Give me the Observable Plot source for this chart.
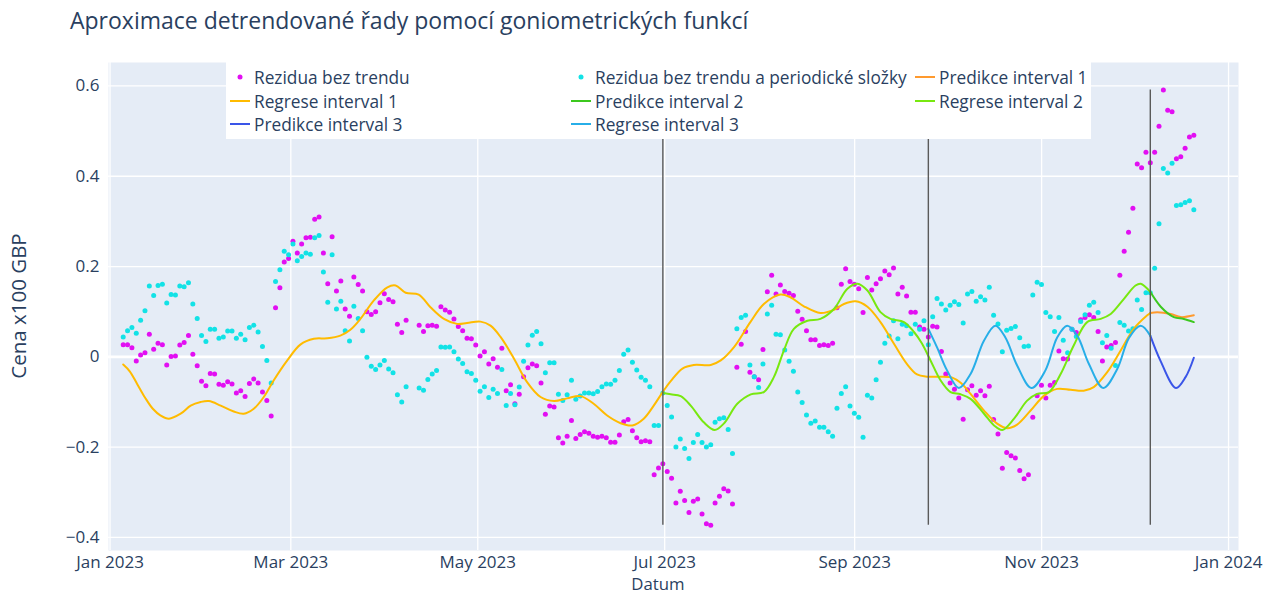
<!DOCTYPE html>
<html>
<head>
<meta charset="utf-8">
<script src="https://cdn.jsdelivr.net/npm/d3@7"></script>
<script src="https://cdn.jsdelivr.net/npm/@observablehq/plot@0.6"></script>
<style>
  body { margin: 0; background: #ffffff; font-family: "Open Sans", sans-serif; }
  #wrap { position: relative; width: 1273px; height: 595px; overflow: hidden; }
  #title { position: absolute; left: 70px; top: 4px; font-size: 23px; line-height: 32px; color: #2a3f5f; white-space: nowrap; }
  #legend { position: absolute; left: 226px; top: 62px; width: 865px; height: 77px; background: #ffffff; }
  .item { position: absolute; height: 22px; display: flex; align-items: center; font-size: 17.3px; color: #2a3f5f; white-space: nowrap; }
  .item svg { margin-right: 4px; }
  #xlabel { position: absolute; left: 658px; top: 573.5px; transform: translateX(-50%); font-size: 16.8px; line-height: 20px; color: #2a3f5f; white-space: nowrap; }
  #ylabel { position: absolute; left: 18px; top: 306px; transform: translate(-50%, -50%) rotate(-90deg); font-size: 20.5px; line-height: 24px; color: #2a3f5f; white-space: nowrap; }
</style>
</head>
<body>
<div id="wrap">
  <div id="chart"></div>
  <div id="title">Aproximace detrendované řady pomocí goniometrických funkcí</div>
  <div id="legend"></div>
  <div id="xlabel">Datum</div>
  <div id="ylabel">Cena x100 GBP</div>
</div>
<script>
const firstDay = Date.UTC(2023, 0, 1) + 4.3 * 864e5; // first observation
const stepDays = 1.4202;                               // spacing of observations

const rezidua = [0.027,0.027,0.020,-0.009,0.004,0.009,0.050,0.017,0.030,0.027,-0.018,0.001,0.002,0.026,0.032,0.047,0.006,-0.020,-0.054,-0.064,
-0.037,-0.038,-0.061,-0.063,-0.055,-0.060,-0.080,-0.075,-0.088,-0.059,-0.049,-0.058,-0.078,-0.097,-0.131,0.109,0.153,0.210,0.218,0.256,
0.230,0.250,0.264,0.265,0.305,0.310,0.230,0.162,0.266,0.146,0.168,0.106,0.090,0.177,0.160,0.146,0.100,0.094,0.100,0.120,
0.140,0.127,0.122,0.072,0.054,0.081,null,null,0.070,0.056,0.069,0.070,0.068,0.111,0.104,0.099,0.084,0.067,0.058,0.041,
0.040,0.026,0.002,0.011,-0.016,-0.004,-0.023,0.019,-0.075,-0.062,-0.104,-0.083,-0.044,-0.024,-0.016,-0.020,-0.058,-0.127,-0.109,-0.111,
-0.179,-0.191,-0.176,-0.141,-0.181,-0.172,-0.166,-0.169,-0.176,-0.178,-0.176,-0.179,-0.189,-0.189,-0.173,-0.144,-0.139,-0.164,-0.179,-0.188,
-0.186,-0.188,-0.261,-0.246,-0.237,-0.254,-0.269,-0.324,-0.298,-0.318,-0.345,-0.320,-0.315,-0.348,-0.370,-0.373,-0.324,-0.309,-0.292,-0.297,
-0.326,-0.023,0.028,0.056,-0.034,-0.044,-0.051,0.016,0.144,0.181,0.139,0.159,0.145,0.141,0.136,0.101,0.083,0.058,0.038,0.038,
0.025,0.027,0.025,0.030,0.109,0.161,0.195,0.167,0.161,0.151,0.098,0.176,0.148,0.162,0.173,0.190,0.182,0.197,0.139,0.154,
0.135,0.099,0.099,0.066,0.061,0.044,0.068,0.066,0.012,-0.038,-0.058,-0.072,-0.091,-0.138,-0.073,-0.064,-0.085,-0.075,-0.086,-0.065,
-0.139,-0.171,-0.247,-0.212,-0.219,-0.224,-0.252,-0.270,-0.261,-0.134,-0.086,-0.063,-0.091,-0.063,-0.057,0.013,-0.004,-0.005,0.061,0.054,
0.082,0.087,0.093,0.087,0.056,-0.009,0.022,0.025,0.032,0.181,0.234,0.276,0.329,0.427,0.419,0.453,0.430,0.453,0.511,0.591,
0.546,0.543,0.439,0.443,0.462,0.487,0.491];

const rezidubezPer = [0.044,0.058,0.065,0.052,0.081,0.102,0.157,0.136,0.158,0.161,0.119,0.138,0.137,0.157,0.155,0.164,0.117,0.085,0.047,0.034,
0.061,0.061,0.041,0.044,0.057,0.057,0.041,0.050,0.038,0.065,0.070,0.055,0.023,-0.008,-0.058,0.167,0.193,0.234,0.226,0.250,
0.213,0.222,0.230,0.227,0.264,0.269,0.188,0.121,0.226,0.106,0.123,0.058,0.035,0.112,0.085,0.058,-0.001,-0.021,-0.028,-0.018,
-0.008,-0.027,-0.035,-0.084,-0.100,-0.066,null,null,-0.069,-0.074,-0.050,-0.038,-0.030,0.022,0.021,0.022,0.011,-0.005,-0.015,-0.033,
-0.037,-0.052,-0.076,-0.066,-0.090,-0.072,-0.081,-0.028,-0.108,-0.081,-0.106,-0.067,-0.010,0.026,0.048,0.056,0.029,-0.035,-0.013,-0.013,
-0.083,-0.097,-0.084,-0.052,-0.094,-0.087,-0.080,-0.080,-0.082,-0.077,-0.066,-0.060,-0.061,-0.052,-0.030,0.006,0.015,-0.012,-0.029,-0.045,
-0.052,-0.066,-0.152,-0.152,-0.080,-0.108,-0.133,-0.200,-0.182,-0.203,-0.225,-0.190,-0.172,-0.190,-0.200,-0.195,-0.145,-0.137,-0.135,-0.161,
-0.214,0.062,0.087,0.092,-0.018,-0.044,-0.068,-0.016,0.095,0.114,0.050,0.049,0.015,-0.010,-0.032,-0.078,-0.101,-0.129,-0.147,-0.142,
-0.156,-0.156,-0.166,-0.176,-0.114,-0.081,-0.066,-0.109,-0.125,-0.134,-0.178,-0.085,-0.091,-0.051,-0.012,0.030,0.046,0.080,0.040,0.072,
0.069,0.051,0.072,0.061,0.080,0.027,0.089,0.129,0.117,0.104,0.114,0.122,0.116,0.075,0.139,0.145,0.123,0.133,0.126,0.154,
0.092,0.073,0.011,0.059,0.063,0.067,0.042,0.023,0.024,0.137,0.165,0.160,0.098,0.089,0.056,0.087,0.037,0.009,0.061,0.045,
0.078,0.093,0.114,0.121,0.098,0.031,0.047,0.019,-0.019,0.076,0.070,0.057,0.062,0.126,0.105,0.142,0.142,0.196,0.295,0.417,
0.407,0.429,0.335,0.337,0.342,0.346,0.326];

// fitted curves: [observation index, value]
const regrese1 = [[0,-0.017],[1.5,-0.032],[3.2,-0.060],[5,-0.090],[6.8,-0.115],[8.6,-0.130],[10.5,-0.137],[13.2,-0.126],[15.5,-0.108],[17.8,-0.100],[19.7,-0.098],
[22.4,-0.108],[25.4,-0.121],[27.7,-0.126],[30,-0.115],[32.3,-0.089],[34.6,-0.052],[37.7,-0.008],[40.7,0.027],[43.8,0.040],[46.9,0.041],
[49.9,0.047],[52.2,0.060],[54.5,0.084],[57.6,0.125],[60.7,0.154],[62.6,0.158],[64.9,0.142],[67.9,0.138],[70.6,0.110],[73.7,0.084],
[76.7,0.073],[79,0.075],[82.1,0.078],[84.4,0.069],[86.7,0.044],[89.8,-0.004],[92.8,-0.056],[95.9,-0.089],[99,-0.098],[102,-0.092],
[105.1,-0.087],[108.1,-0.104],[111.2,-0.130],[114.3,-0.147],[117,-0.152],[119.6,-0.137],[121.9,-0.108],[124.1,-0.076],[125.8,-0.054],
[128.5,-0.026],[131.1,-0.018],[135,-0.018],[137.3,-0.008],[140.3,0.021],[144.1,0.077],[147.2,0.117],[151,0.138],[153.3,0.132],
[156.4,0.112],[160.2,0.097],[163.3,0.104],[165.6,0.117],[168.3,0.123],[171,0.111],[174,0.077],[177.1,0.029],[180.1,-0.016],
[182.4,-0.039],[184.7,-0.044],[187.8,-0.044],[190.5,-0.046],[192.5,-0.058],[194.7,-0.082],[197.8,-0.119],[200.8,-0.148],[203.1,-0.158],
[205.4,-0.150],[208.5,-0.119],[211.6,-0.086],[214.6,-0.071],[217.7,-0.073],[220.7,-0.075],[223,-0.067],[226.1,-0.034],[229.2,0.014],
[232.2,0.062],[235.3,0.092],[236,0.097]];
const predikce1 = [[236,0.097],[237.6,0.099],[240.7,0.095],[243,0.088],[246,0.092]];
const regrese2 = [[124,-0.080],[125.8,-0.083],[128.1,-0.087],[130.4,-0.108],[133.4,-0.145],[135.9,-0.162],[138,-0.148],[141.1,-0.104],
[144.2,-0.083],[147.2,-0.078],[149.5,-0.045],[151.8,0.014],[154.1,0.062],[157.2,0.080],[160.2,0.084],[163.3,0.106],[166.4,0.151],
[168.7,0.162],[171,0.147],[174,0.099],[176.3,0.084],[179.4,0.077],[181.7,0.055],[183.5,0.030],[185.5,-0.008],[187.8,-0.052],
[190.1,-0.078],[192.4,-0.083],[194.7,-0.093],[197.8,-0.126],[200.1,-0.152],[202,-0.162],[204.7,-0.137],[207.7,-0.097],[210,-0.082],
[212.7,-0.078],[215.4,-0.038],[218.4,0.025],[221.5,0.077],[224.6,0.084],[226.9,0.095],[229.9,0.128],[232.6,0.158],[233.8,0.162],[236,0.144]];
const predikce2 = [[236,0.144],[238.4,0.111],[241.4,0.088],[243.7,0.084],[246,0.077]];
const regrese3 = [[185,0.062],[187,0.021],[189.3,-0.030],[192,-0.069],[194.7,-0.038],[197.8,0.036],[200.4,0.069],[202.7,0.043],
[205.4,-0.019],[208.7,-0.069],[211.9,-0.030],[214.6,0.043],[216.9,0.069],[219.2,0.047],[221.9,-0.016],[225.2,-0.069],[228.4,-0.027],
[231.1,0.042],[233.8,0.069],[236,0.047]];
const predikce3 = [[236,0.047],[238.4,-0.010],[241.9,-0.069],[244.1,-0.045],[246,-0.002]];

const hranice = [124, 185, 236]; // interval boundaries (observation index)

const xTicks = ["2023-01-01","2023-03-01","2023-05-01","2023-07-01","2023-09-01","2023-11-01","2024-01-01"];
const yTicks = [-0.4, -0.2, 0, 0.2, 0.4, 0.6];

const names = ["Rezidua bez trendu", "Rezidua bez trendu a periodické složky", "Predikce interval 1",
  "Regrese interval 1", "Predikce interval 2", "Regrese interval 2", "Predikce interval 3", "Regrese interval 3"];
const colors = ["#e20ff2", "#12e2e6", "#ff9a2e", "#ffbb00", "#3cc81e", "#78e810", "#3a55e8", "#27aee8"];

// ---------- build ----------
const dateOf = i => new Date(firstDay + i * stepDays * 864e5);
const pts = rezidua.map((v, i) => ({date: dateOf(i), a: v, b: rezidubezPer[i]}));
const yMin = d3.min(rezidua), yMax = d3.max(rezidua);
const lineMark = (arr, c) => Plot.line(arr, {x: d => dateOf(d[0]), y: d => d[1], stroke: c, strokeWidth: 2, curve: "catmull-rom"});
const tickDates = xTicks.map(s => new Date(s + "T00:00:00Z"));

const chart = Plot.plot({
  width: 1273,
  height: 595,
  marginLeft: 108,
  marginRight: 35,
  marginTop: 62,
  marginBottom: 45,
  style: {fontFamily: "'Open Sans', sans-serif", fontSize: "17px", color: "#2a3f5f", background: "transparent", overflow: "visible"},
  x: {type: "utc", domain: [new Date(Date.UTC(2022, 11, 31, 12)), new Date(Date.UTC(2024, 0, 4, 6))],
      ticks: tickDates, tickFormat: d3.utcFormat("%b %Y"),
      tickSize: 0, tickPadding: 5, label: null},
  y: {domain: [-0.429, 0.652], ticks: yTicks,
      tickFormat: d => d === 0 ? "0" : d3.format(".1f")(d).replace("-", "\u2212"),
      tickSize: 0, tickPadding: 9, label: null},
  marks: [
    Plot.frame({fill: "#E5ECF6", stroke: null}),
    Plot.gridX(tickDates, {stroke: "#ffffff", strokeOpacity: 1, strokeWidth: 1.3}),
    Plot.gridY(yTicks, {stroke: "#ffffff", strokeOpacity: 1, strokeWidth: 1.3}),
    Plot.ruleY([0], {stroke: "#ffffff", strokeWidth: 2.6}),
    Plot.dot(pts, {x: "date", y: "a", r: 2.5, fill: colors[0], stroke: null}),
    Plot.dot(pts, {x: "date", y: "b", r: 2.5, fill: colors[1], stroke: null}),
    lineMark(predikce1, colors[2]),
    lineMark(regrese1, colors[3]),
    lineMark(predikce2, colors[4]),
    lineMark(regrese2, colors[5]),
    lineMark(predikce3, colors[6]),
    lineMark(regrese3, colors[7]),
    Plot.ruleX(hranice, {x: i => dateOf(i), y1: yMin, y2: yMax, stroke: "#5a5a5a", strokeWidth: 1.4})
  ]
});
document.getElementById("chart").appendChild(chart);

// ---------- legend ----------
const legend = document.getElementById("legend");
const colLeft = [4, 345, 689], rowTop = [4, 28, 51];
names.forEach((n, k) => {
  const item = document.createElement("div");
  item.className = "item";
  item.style.left = colLeft[k % 3] + "px";
  item.style.top = rowTop[Math.floor(k / 3)] + "px";
  const sw = k < 2
    ? `<svg width="20" height="10"><circle cx="10" cy="5" r="2.5" fill="${colors[k]}"/></svg>`
    : `<svg width="20" height="10"><line x1="0" x2="20" y1="5" y2="5" stroke="${colors[k]}" stroke-width="2"/></svg>`;
  item.innerHTML = sw + `<span>${n}</span>`;
  legend.appendChild(item);
});
</script>
</body>
</html>
